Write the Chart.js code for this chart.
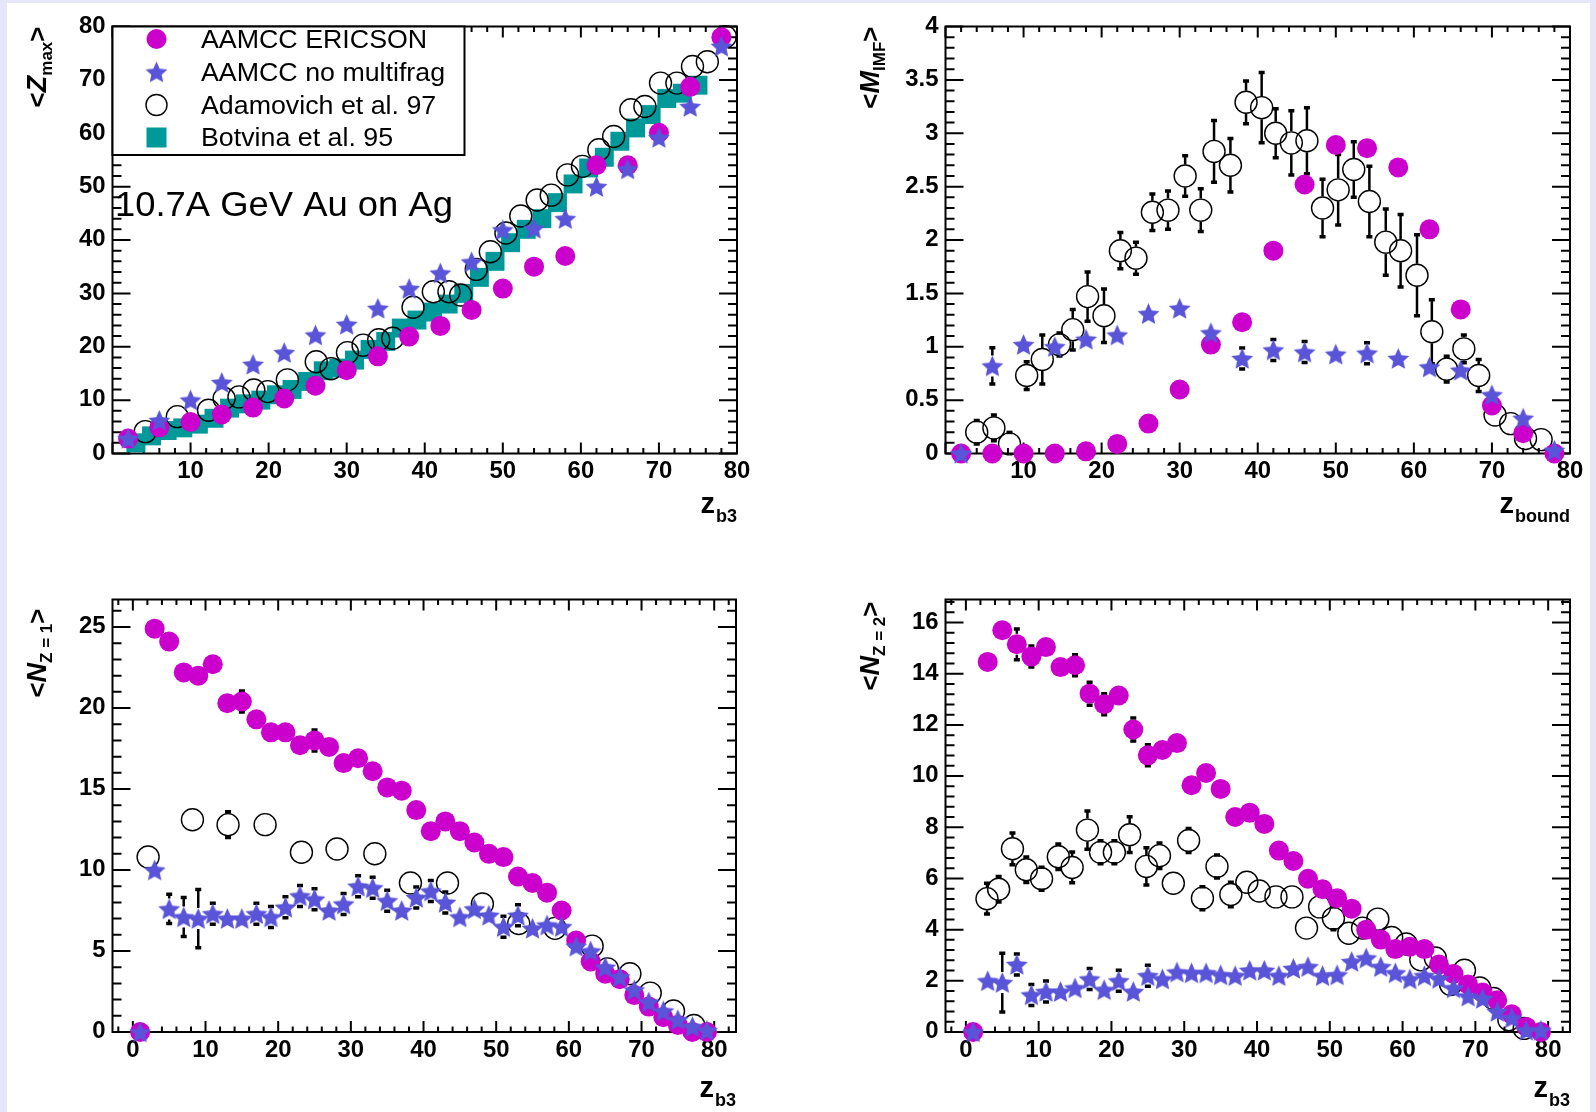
<!doctype html>
<html>
<head>
<meta charset="UTF-8"/>
<title>AAMCC 10.7A GeV Au on Ag</title>
<script src="https://cdn.jsdelivr.net/npm/chart.js@4.4.1/dist/chart.umd.min.js"></script>
<style>
  body { margin: 0; background: #e6e6fa; }
  #page { position: absolute; left: 7px; top: 3px; width: 1583px; height: 1109px; background: #fff; }
  canvas { position: absolute; }
</style>
</head>
<body>
<div id="page"></div>
<canvas id="zmax" width="798" height="556" style="left:0;top:0"></canvas>
<canvas id="mimf" width="798" height="556" style="left:798px;top:0"></canvas>
<canvas id="nz1" width="798" height="556" style="left:0;top:556px"></canvas>
<canvas id="nz2" width="798" height="556" style="left:798px;top:556px"></canvas>

<script>
// ---- data ----
// top left: <Z_max> vs Z_b3
const zb3Every4 = [2,6,10,14,18,22,26,30,34,38,42,46,50,54,58,62,66,70,74,78];
const zmaxEricson = [2.8,4.9,5.9,7.3,8.6,10.3,12.7,15.6,18.2,21.9,23.9,26.9,30.9,35,37,54,54,60.1,68.7,78];
const zmaxNoMulti = [2.8,6.2,10,13.3,16.7,18.9,22.2,24.2,27.2,30.9,33.8,35.9,41.9,42.2,44,50,53.3,59.2,65,76.3];
const zb3Adam = [4.2,8.3,12.3,14.3,16.2,18.1,19.9,22.4,26.1,28,30.1,32.1,34.1,35.9,38.5,41.1,43.1,44.6,46.6,48.4,50.4,52.3,54.4,56.2,58.3,60.2,62.3,64.2,66.4,68.2,70.2,72.3,74.3,76.2,78.5];
const zmaxAdam = [4.1,6.9,8.1,10.3,10.6,11.9,11.6,13.8,17.2,15.9,18.9,20.3,21.3,21.6,27.4,30.3,30.3,29.7,34.5,37.8,41.3,44.5,47.5,48.4,52.2,53.8,56.9,59.4,64.4,65,69.4,69.4,72.5,73.4,78.1];
const zb3Botv = [3,5,7,9,11,13,15,17,19,21,23,25,27,29,31,33,35,37,39,41,43,45,47,49,51,53,55,57,59,61,63,65,67,69,71,73,75];
const zmaxBotv = [2,3.3,4.3,4.8,5.5,6.6,8.5,9.3,10,11,12,13.5,15.5,16,17.5,19.5,21,23.5,25,26.5,28,30,33,36,39.5,42,44,47,50.5,53.5,55.5,58.5,61,63.5,66.5,67.5,69];

// top right: <M_IMF> vs Z_bound
const mimfEricson = [0,0,0,0,0.02,0.09,0.28,0.6,1.02,1.23,1.9,2.52,2.89,2.86,2.68,2.1,1.35,0.45,0.19,0];
const mimfNoMulti = [0,0.82,1.02,1,1.07,1.11,1.31,1.36,1.13,0.89,0.97,0.95,0.93,0.94,0.89,0.81,0.78,0.55,0.33,0.03];
const mimfNoMultiErr = [0,0.17,0,0,0,0,0,0,0,0.04,0.04,0.04,0,0.04,0,0,0,0,0,0];
const zbAdam = [4,6.2,8.2,10.4,12.4,14.6,16.3,18.2,20.3,22.4,24.4,26.5,28.5,30.7,32.7,34.4,36.5,38.5,40.5,42.3,44.3,46.3,48.3,50.3,52.3,54.3,56.4,58.3,60.4,62.3,64.2,66.4,68.3,70.4,72.4,74.3,76.3];
const mimfAdam = [0.2,0.24,0.09,0.73,0.88,1.02,1.16,1.47,1.29,1.9,1.83,2.26,2.28,2.6,2.28,2.83,2.7,3.29,3.24,3,2.91,2.93,2.3,2.47,2.66,2.36,1.98,1.9,1.67,1.14,0.79,0.98,0.73,0.36,0.28,0.14,0.13];
const mimfAdamErr = [0.11,0.12,0.03,0.13,0.23,0.05,0.19,0.23,0.25,0.17,0.15,0.17,0.18,0.19,0.2,0.29,0.25,0.2,0.33,0.23,0.3,0.31,0.27,0.33,0.26,0.33,0.31,0.34,0.38,0.3,0.12,0.13,0.15,0,0,0,0];

// bottom panels share z_b3 = 1,3,...,79
const zb3Odd = [1,3,5,7,9,11,13,15,17,19,21,23,25,27,29,31,33,35,37,39,41,43,45,47,49,51,53,55,57,59,61,63,65,67,69,71,73,75,77,79];

// bottom left: <N_Z=1>
const nz1Ericson = [0,24.9,24.1,22.2,22,22.7,20.3,20.4,19.3,18.5,18.5,17.7,18,17.6,16.6,16.9,16.1,15.1,14.9,13.7,12.4,13,12.4,11.7,11,10.8,9.6,9.2,8.6,7.5,5.65,4.35,3.6,3.26,2.28,1.57,0.91,0.43,0,0];
const nz1EricsonErr = [0,0,0,0,0,0,0,0.5,0,0,0,0,0.6,0,0,0,0,0,0,0,0,0,0,0,0,0,0,0,0,0,0,0,0,0,0,0,0,0,0,0];
const nz1NoMulti = [0,10,7.6,7.1,7,7.3,7,7,7.3,7.1,7.7,8.4,8.2,7.5,7.9,9,8.9,8.1,7.5,8.3,8.7,8,7.1,7.6,7.2,6.5,7.2,6.4,6.6,6.5,5.3,5,4,3.4,2.6,1.85,1.3,0.76,0.33,0.1];
const nz1NoMultiErr = [0,0,0.9,1.2,1.8,0.4,0,0,0.45,0.35,0.4,0.35,0.4,0,0.4,0.45,0.45,0.35,0,0.45,0.45,0.35,0,0,0,0.35,0.35,0,0,0,0,0,0,0,0,0,0,0,0,0];
const zb3Adam1 = [2.1,8.2,13.1,18.2,23.2,28.1,33.3,38.2,43.3,48.1,53.1,58.1,63.2,65.3,68.4,71.2,74.4,77.2];
const nz1Adam = [10.8,13.1,12.8,12.8,11.1,11.3,11,9.2,9.2,7.9,6.7,6.4,5.3,3.9,3.6,2.4,1.3,0.4];
const nz1AdamErr = [0,0,0.8,0,0,0,0,0,0,0,0,0,0,0,0,0,0,0];

// bottom right: <N_Z=2>
const nz2Ericson = [0,14.46,15.7,15.15,14.67,15.04,14.26,14.33,13.22,12.81,13.15,11.82,10.81,11.02,11.29,9.64,10.12,9.5,8.4,8.57,8.13,7.09,6.68,5.99,5.58,5.23,4.82,4,3.61,3.24,3.33,3.24,2.64,2.27,1.86,1.54,1.24,0.69,0.2,0];
const nz2EricsonErr = [0,0,0,0.6,0.35,0,0,0.4,0.45,0.4,0,0.45,0.35,0,0,0,0,0,0,0,0,0,0,0,0,0,0,0,0,0,0,0,0,0,0,0,0,0,0,0];
const nz2NoMulti = [0,2,1.93,2.64,1.45,1.58,1.58,1.72,2.07,1.65,2,1.58,2.2,2.07,2.34,2.31,2.31,2.23,2.2,2.41,2.41,2.2,2.48,2.55,2.2,2.23,2.75,2.89,2.55,2.31,2.07,2.2,2.09,1.72,1.4,1.31,0.8,0.55,0.07,0.07];
const nz2NoMultiErr = [0,0,1.15,0.35,0.4,0.25,0,0,0.25,0,0.2,0,0.2,0,0,0,0,0,0,0,0,0,0,0,0,0,0,0,0,0,0,0,0,0,0,0,0,0,0,0];
const zb3Adam2 = [2.9,4.5,6.4,8.3,10.4,12.7,14.6,16.7,18.5,20.4,22.5,24.8,26.6,28.5,30.6,32.5,34.5,36.4,38.6,40.3,42.6,44.8,46.8,48.6,50.5,52.6,54.5,56.6,58.5,60.5,62.5,64.5,66.6,68.5,70.6,72.5,74.6,76.7];
const nz2Adam = [5.21,5.58,7.16,6.34,5.99,6.85,6.43,7.89,7.02,7.02,7.71,6.47,6.89,5.81,7.48,5.23,6.47,5.37,5.85,5.51,5.28,5.28,4.06,4.89,4.44,3.86,4.06,4.41,3.69,3.44,2.82,2.89,1.86,2.41,1.72,1.31,0.48,0.14];
const nz2AdamErr = [0.6,0.5,0.62,0.5,0.45,0.5,0.6,0.75,0.45,0.45,0.7,0.73,0.5,0,0.47,0.45,0.45,0.48,0,0,0,0,0,0,0.3,0,0,0,0,0,0,0,0,0,0,0,0,0];

// tick labels
const xTicksTop = [10,20,30,40,50,60,70,80];
const xTicksBottom = [0,10,20,30,40,50,60,70,80];
const yTicksZmax = [0,10,20,30,40,50,60,70,80];
const yTicksMimf = [0,0.5,1,1.5,2,2.5,3,3.5,4];
const yTicksNz1 = [0,5,10,15,20,25];
const yTicksNz2 = [0,2,4,6,8,10,12,14,16];

const legendLabels = ['AAMCC ERICSON', 'AAMCC no multifrag', 'Adamovich et al. 97', 'Botvina et al. 95'];

// ---- styling ----
const FONT = '"Liberation Sans", Arial, Helvetica, sans-serif';
const MAGENTA = '#cc00cc';
const STARBLUE = 'rgb(89,84,216)';
const TEAL = '#009999';

function starCanvas(color, R, r) {
    const c = document.createElement('canvas');
    const s = Math.ceil(R * 2 + 2);
    c.width = c.height = s;
    const g = c.getContext('2d');
    g.fillStyle = color;
    g.beginPath();
    for (let k = 0; k < 10; k++) {
        const rad = k % 2 ? r : R;
        const ang = -Math.PI / 2 + k * Math.PI / 5;
        const px = s / 2 + rad * Math.cos(ang), py = s / 2 + 1 + rad * Math.sin(ang);
        if (k) g.lineTo(px, py); else g.moveTo(px, py);
    }
    g.closePath();
    g.fill();
    return c;
}
const STAR = starCanvas(STARBLUE, 11.5, 5.4);

function pts(xs, ys) { return xs.map((x, i) => ({x: x, y: ys[i]})); }

function ericson(xs, ys, err) {
    return {label: legendLabels[0], data: pts(xs, ys), errY: err, pointStyle: 'circle', pointRadius: 10,
        backgroundColor: MAGENTA, borderColor: MAGENTA, borderWidth: 0, order: 2, clip: false};
}
function noMulti(xs, ys, err) {
    return {label: legendLabels[1], data: pts(xs, ys), errY: err, pointStyle: STAR, pointRadius: 10,
        backgroundColor: STARBLUE, borderColor: STARBLUE, borderWidth: 0, order: 1, clip: false};
}
function adam(xs, ys, err) {
    return {label: legendLabels[2], data: pts(xs, ys), errY: err, pointStyle: 'circle', pointRadius: 11,
        backgroundColor: 'rgba(0,0,0,0)', borderColor: '#000', borderWidth: 1.4, order: 3, clip: false};
}
function botvina(xs, ys) {
    return {label: legendLabels[3], data: pts(xs, ys), pointStyle: 'rect', pointRadius: 13.4,
        backgroundColor: TEAL, borderColor: TEAL, borderWidth: 0, order: 4, clip: false};
}

function txt(ctx, s, x, y, font, align, base, sx) {
    ctx.save();
    ctx.font = font;
    ctx.textAlign = align;
    ctx.textBaseline = base;
    ctx.fillStyle = '#000';
    ctx.translate(x, y);
    ctx.scale(sx || 1, 1);
    ctx.fillText(s, 0, 0);
    ctx.restore();
}

function steps(min, max, step) {
    const out = [];
    for (let v = Math.ceil(min / step - 1e-9) * step; v <= max + 1e-9; v += step) out.push(Math.round(v * 1000) / 1000);
    return out;
}
function isMajor(v, major) { return Math.abs(v / major - Math.round(v / major)) < 1e-6; }

// ROOT-like frame: ticks inside on all four sides, labels and titles
const rootAxes = {
    id: 'rootAxes',
    beforeDatasetsDraw(chart, args, o) {
        const ctx = chart.ctx, a = chart.chartArea, x = chart.scales.x, y = chart.scales.y;
        ctx.save();
        ctx.strokeStyle = '#000';
        ctx.lineWidth = 2;
        ctx.beginPath();
        steps(x.min, x.max, o.xMinor).forEach(v => {
            const px = x.getPixelForValue(v);
            const len = isMajor(v, o.xMajor) ? 11 : 5.5;
            ctx.moveTo(px, a.bottom); ctx.lineTo(px, a.bottom - len);
            ctx.moveTo(px, a.top); ctx.lineTo(px, a.top + len);
        });
        steps(y.min, y.max, o.yMinor).forEach(v => {
            const py = y.getPixelForValue(v);
            const len = isMajor(v, o.yMajor) ? 18 : 9;
            ctx.moveTo(a.left, py); ctx.lineTo(a.left + len, py);
            ctx.moveTo(a.right, py); ctx.lineTo(a.right - len, py);
        });
        ctx.stroke();
        ctx.strokeRect(a.left, a.top, a.right - a.left, a.bottom - a.top);

        const tickFont = 'bold 23px ' + FONT;
        o.xTicks.forEach(v => txt(ctx, String(v), x.getPixelForValue(v), a.bottom + 7, tickFont, 'center', 'top', 1.04));
        o.yTicks.forEach(v => txt(ctx, String(v), a.left - 7, y.getPixelForValue(v), tickFont, 'right', 'middle', 1.04));

        // x title, right aligned at the frame end
        ctx.font = 'bold 29px ' + FONT;
        const w1 = ctx.measureText(o.xTitle[0]).width;
        ctx.font = 'bold 18px ' + FONT;
        const w2 = ctx.measureText(o.xTitle[1]).width;
        const x0 = a.right - w1 - w2 - 1;
        txt(ctx, o.xTitle[0], x0, a.bottom + o.xTitleDy, 'bold 29px ' + FONT, 'left', 'alphabetic');
        txt(ctx, o.xTitle[1], x0 + w1 + 1, a.bottom + o.xTitleDy + 9, 'bold 18px ' + FONT, 'left', 'alphabetic');

        // y title, rotated, ending at the frame top
        const parts = [['bold 26px ' + FONT, '<', 0], ['italic bold 27px ' + FONT, o.yTitle[0], 0],
            ['bold 17px ' + FONT, o.yTitle[1], 6], ['bold 26px ' + FONT, '>', 0]];
        let total = 0;
        parts.forEach(p => { ctx.font = p[0]; total += ctx.measureText(p[1]).width; });
        ctx.save();
        ctx.translate(a.left - 67, a.top + (o.yTitleDy || 0));
        ctx.rotate(-Math.PI / 2);
        ctx.fillStyle = '#000';
        ctx.textAlign = 'left';
        ctx.textBaseline = 'alphabetic';
        let tx = -total;
        parts.forEach(p => { ctx.font = p[0]; ctx.fillText(p[1], tx, p[2]); tx += ctx.measureText(p[1]).width; });
        ctx.restore();
        ctx.restore();
    }
};

// vertical error bars with caps, leaving the marker itself clear
const errorBars = {
    id: 'errorBars',
    beforeDatasetsDraw(chart) {
        const ctx = chart.ctx, y = chart.scales.y;
        ctx.save();
        ctx.strokeStyle = '#000';
        chart.data.datasets.forEach((ds, i) => {
            if (!ds.errY) return;
            const gap = ds.pointRadius + 0.5;
            chart.getDatasetMeta(i).data.forEach((pt, j) => {
                const e = ds.errY[j];
                if (!e) return;
                const v = ds.data[j].y;
                const top = Math.min(y.getPixelForValue(v + e), pt.y - gap);
                const bot = Math.max(y.getPixelForValue(v - e), pt.y + gap);
                ctx.lineWidth = 2.5;
                ctx.beginPath();
                ctx.moveTo(pt.x, top); ctx.lineTo(pt.x, pt.y - gap);
                if (bot < chart.chartArea.bottom) { ctx.moveTo(pt.x, pt.y + gap); ctx.lineTo(pt.x, bot); }
                ctx.stroke();
                ctx.lineWidth = 3.5;
                ctx.beginPath();
                ctx.moveTo(pt.x - 3, top); ctx.lineTo(pt.x + 3, top);
                if (bot < chart.chartArea.bottom) { ctx.moveTo(pt.x - 3, bot); ctx.lineTo(pt.x + 3, bot); }
                ctx.stroke();
            });
        });
        ctx.restore();
    }
};

// ROOT TLegend box plus the beam label, first panel only
const rootLegend = {
    id: 'rootLegend',
    afterDatasetsDraw(chart, args, o) {
        if (!o.show) return;
        const ctx = chart.ctx, a = chart.chartArea;
        ctx.save();
        ctx.fillStyle = '#fff';
        ctx.fillRect(a.left, a.top, 352, 128.5);
        ctx.strokeStyle = '#000';
        ctx.lineWidth = 2;
        ctx.strokeRect(a.left, a.top, 352, 128.5);
        const mx = 156.5, rows = [39, 72, 105, 137.5];
        ctx.fillStyle = MAGENTA;
        ctx.beginPath(); ctx.arc(mx, rows[0], 10, 0, 2 * Math.PI); ctx.fill();
        ctx.drawImage(STAR, mx - STAR.width / 2, rows[1] - STAR.height / 2);
        ctx.strokeStyle = '#000'; ctx.lineWidth = 1.4;
        ctx.beginPath(); ctx.arc(mx, rows[2], 10.5, 0, 2 * Math.PI); ctx.stroke();
        ctx.fillStyle = TEAL;
        ctx.fillRect(mx - 10, rows[3] - 10, 20, 20);
        chart.data.datasets.forEach((ds, i) => txt(ctx, legendLabels[i], 201, rows[i] + 8.5, '26px ' + FONT, 'left', 'alphabetic', 1.03));
        txt(ctx, '10.7A GeV Au on Ag', 115, 216, '35px ' + FONT, 'left', 'alphabetic', 1.04);
        ctx.restore();
    }
};

function makeChart(id, pad, xr, yr, datasets, axes, legend) {
    return new Chart(document.getElementById(id), {
        type: 'scatter',
        data: {datasets: datasets},
        options: {
            responsive: false,
            animation: false,
            events: [],
            devicePixelRatio: 1,
            layout: {padding: pad},
            scales: {
                x: {type: 'linear', min: xr[0], max: xr[1], display: false},
                y: {type: 'linear', min: yr[0], max: yr[1], display: false}
            },
            plugins: {
                legend: {display: false},
                tooltip: {enabled: false},
                rootAxes: axes,
                rootLegend: {show: !!legend}
            }
        },
        plugins: [rootAxes, errorBars, rootLegend]
    });
}

makeChart('zmax', {left: 112.5, right: 61, top: 26.5, bottom: 102.5}, [0, 80], [0, 80], [
    ericson(zb3Every4, zmaxEricson),
    noMulti(zb3Every4, zmaxNoMulti),
    adam(zb3Adam, zmaxAdam),
    botvina(zb3Botv, zmaxBotv)
], {xTicks: xTicksTop, yTicks: yTicksZmax, xMajor: 10, xMinor: 2, yMajor: 10, yMinor: 2,
    xTitle: ['z', 'b3'], xTitleDy: 59, yTitle: ['Z', 'max']}, true);

makeChart('mimf', {left: 147.5, right: 26, top: 26.5, bottom: 102.5}, [0, 80], [0, 4], [
    ericson(zb3Every4, mimfEricson),
    noMulti(zb3Every4, mimfNoMulti, mimfNoMultiErr),
    adam(zbAdam, mimfAdam, mimfAdamErr)
], {xTicks: xTicksTop, yTicks: yTicksMimf, xMajor: 10, xMinor: 2, yMajor: 0.5, yMinor: 0.1,
    xTitle: ['z', 'bound'], xTitleDy: 59, yTitle: ['M', 'IMF']});

makeChart('nz1', {left: 112.5, right: 62, top: 43.5, bottom: 80}, [-2.8, 83], [0, 26.7], [
    ericson(zb3Odd, nz1Ericson, nz1EricsonErr),
    noMulti(zb3Odd, nz1NoMulti, nz1NoMultiErr),
    adam(zb3Adam1, nz1Adam, nz1AdamErr)
], {xTicks: xTicksBottom, yTicks: yTicksNz1, xMajor: 10, xMinor: 2, yMajor: 5, yMinor: 1,
    xTitle: ['z', 'b3'], xTitleDy: 65, yTitle: ['N', 'Z = 1'], yTitleDy: 9});

makeChart('nz2', {left: 147.5, right: 26, top: 43.5, bottom: 80}, [-2.8, 83], [0, 16.9], [
    ericson(zb3Odd, nz2Ericson, nz2EricsonErr),
    noMulti(zb3Odd, nz2NoMulti, nz2NoMultiErr),
    adam(zb3Adam2, nz2Adam, nz2AdamErr)
], {xTicks: xTicksBottom, yTicks: yTicksNz2, xMajor: 10, xMinor: 2, yMajor: 2, yMinor: 0.4,
    xTitle: ['z', 'b3'], xTitleDy: 65, yTitle: ['N', 'Z = 2'], yTitleDy: 2});
</script>
</body>
</html>
